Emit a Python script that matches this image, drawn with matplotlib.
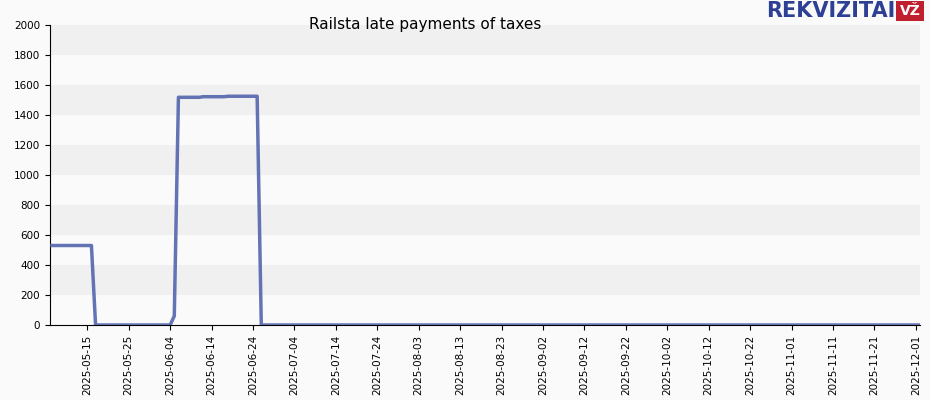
import numpy as np
import pandas as pd
import matplotlib.pyplot as plt
import matplotlib.dates as mdates

# run-length data: (first day, last day, value)
run_starts = ["2025-05-06", "2025-05-17", "2025-06-05", "2025-06-06", "2025-06-12", "2025-06-18", "2025-06-26"]
run_ends = ["2025-05-16", "2025-06-04", "2025-06-05", "2025-06-11", "2025-06-17", "2025-06-25", "2025-12-02"]
run_values = [530, 0, 60, 1518, 1522, 1525, 0]

tick_dates = pd.date_range("2025-05-15", "2025-12-01", freq="10D")

dates, values = [], []
for s, e, v in zip(run_starts, run_ends, run_values):
    d = pd.date_range(s, e, freq="D")
    dates.extend(d)
    values.extend([v] * len(d))

fig = plt.figure(figsize=(9.3, 4.0), dpi=100)
fig.patch.set_facecolor("#fafafa")
ax = fig.add_axes([50 / 930, 75 / 400, 870 / 930, 300 / 400])
ax.set_facecolor("#fafafa")
for lo in range(0, 2000, 400):
    ax.axhspan(lo + 200, lo + 400, color="#f0f0f0", lw=0, zorder=0)

ax.plot(dates, values, color="#4a5ca8", lw=2.5, alpha=0.85, zorder=3)

ax.set_xlim(pd.Timestamp("2025-05-06"), pd.Timestamp("2025-12-02"))
ax.set_ylim(0, 2000)
ax.set_yticks(range(0, 2001, 200))
ax.set_xticks(tick_dates)
ax.xaxis.set_major_formatter(mdates.DateFormatter("%Y-%m-%d"))
ax.tick_params(axis="x", rotation=90, labelsize=7.5)
ax.tick_params(axis="y", labelsize=7.5)
for sp in ["top", "right"]:
    ax.spines[sp].set_visible(False)

fig.text(425 / 930, 1 - 25 / 400, "Railsta late payments of taxes", ha="center", va="center", fontsize=11)
fig.text(895 / 930, 1 - 11 / 400, "REKVIZITAI", ha="right", va="center", fontsize=15,
         fontweight="bold", color="#2e3f96", family="DejaVu Sans Condensed")
fig.text(910 / 930, 1 - 11 / 400, "VŽ", ha="center", va="center", fontsize=10, fontweight="bold",
         color="white", bbox=dict(boxstyle="square,pad=0.25", fc="#c0202e", ec="none"))

fig.savefig("out.png")
